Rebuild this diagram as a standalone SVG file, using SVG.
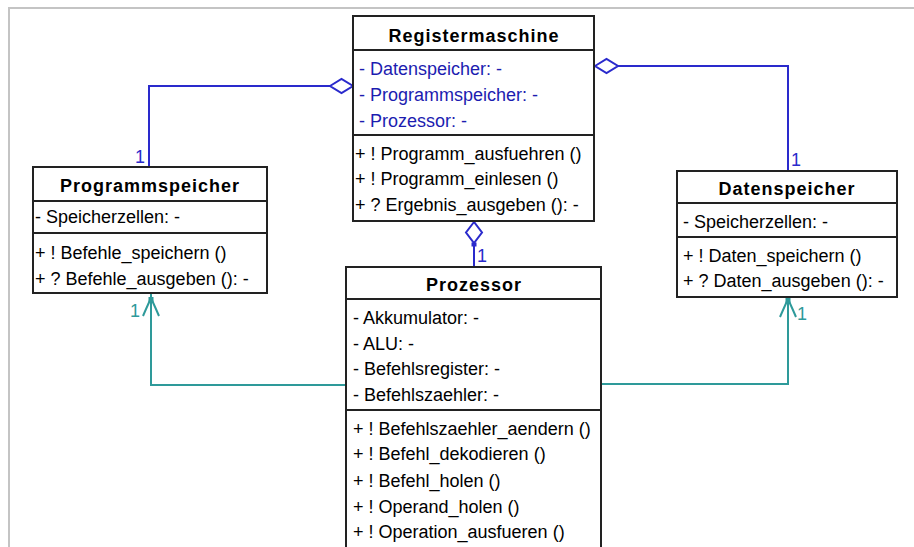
<svg xmlns="http://www.w3.org/2000/svg" width="914" height="547" viewBox="0 0 914 547">
  <style>
    .box { fill: #ffffff; stroke: #222222; stroke-width: 2; }
    .div { stroke: #222222; stroke-width: 2; }
    .title { font-family: "Liberation Sans", Arial, sans-serif; font-size: 18px; font-weight: bold; letter-spacing: 1px; fill: #000000; text-anchor: middle; }
    .txt { font-family: "Liberation Sans", Arial, sans-serif; font-size: 18px; fill: #000000; }
    .attr-blue { fill: #1c1cb0; }
    .agg { fill: none; stroke: #2a2acc; stroke-width: 2; }
    .nav { fill: none; stroke: #2e9a9a; stroke-width: 2; }
    .mult-agg { font-family: "Liberation Sans", Arial, sans-serif; font-size: 18px; fill: #2a2acc; }
    .mult-nav { font-family: "Liberation Sans", Arial, sans-serif; font-size: 18px; fill: #2e9a9a; }
  </style>

  <rect x="0" y="0" width="914" height="547" fill="#ffffff"/>
  <!-- window frame -->
  <path d="M9,547 V8 H914" fill="none" stroke="#c4c4c4" stroke-width="2"/>

  <!-- connectors -->
  <g id="connectors">
    <!-- aggregation Registermaschine -> Programmspeicher -->
    <path class="agg" d="M149,167 V86 H330"/>
    <polygon class="agg" points="330,86 341.5,79 353,86 341.5,93" fill="#ffffff"/>
    <text class="mult-agg" x="135" y="163">1</text>

    <!-- aggregation Registermaschine -> Datenspeicher -->
    <polygon class="agg" points="595,66 606.5,59 618,66 606.5,73"/>
    <path class="agg" d="M618,66 H788 V171"/>
    <text class="mult-agg" x="791" y="166">1</text>

    <!-- aggregation Registermaschine -> Prozessor -->
    <polygon class="agg" points="474,222 466,232.5 474,243 482,232.5"/>
    <path class="agg" d="M474,243 V267"/>
    <rect x="471.5" y="242.5" width="5" height="4" fill="#2a2acc"/>
    <text class="mult-agg" x="477" y="262">1</text>

    <!-- association Prozessor -> Programmspeicher -->
    <path class="nav" d="M346,385 H151 V294"/>
    <path class="nav" d="M143,316 Q146,309 151,298 Q156,309 159,316"/>
    <rect x="148.5" y="297" width="5" height="5" fill="#2e9a9a"/>
    <text class="mult-nav" x="130" y="317">1</text>

    <!-- association Prozessor -> Datenspeicher -->
    <path class="nav" d="M601,384 H788 V298"/>
    <path class="nav" d="M780,317 Q783,310 788,299 Q793,310 796,317"/>
    <rect x="785.5" y="298" width="5" height="5" fill="#2e9a9a"/>
    <text class="mult-nav" x="797" y="320">1</text>
  </g>

  <!-- Registermaschine -->
  <g id="registermaschine">
    <rect class="box" x="353" y="16" width="241" height="205"/>
    <line class="div" x1="353" y1="50" x2="594" y2="50"/>
    <line class="div" x1="353" y1="135" x2="594" y2="135"/>
    <text class="title" x="474" y="42">Registermaschine</text>
    <text class="txt attr-blue" x="359" y="75">- Datenspeicher: -</text>
    <text class="txt attr-blue" x="359" y="101">- Programmspeicher: -</text>
    <text class="txt attr-blue" x="359" y="127">- Prozessor: -</text>
    <text class="txt" x="355" y="160">+ ! Programm_ausfuehren ()</text>
    <text class="txt" x="355" y="185">+ ! Programm_einlesen ()</text>
    <text class="txt" x="355" y="211">+ ? Ergebnis_ausgeben (): -</text>
  </g>

  <!-- Programmspeicher -->
  <g id="programmspeicher">
    <rect class="box" x="33" y="167" width="234" height="126"/>
    <line class="div" x1="33" y1="201" x2="267" y2="201"/>
    <line class="div" x1="33" y1="233" x2="267" y2="233"/>
    <text class="title" x="150" y="192">Programmspeicher</text>
    <text class="txt" x="35" y="223">- Speicherzellen: -</text>
    <text class="txt" x="35" y="259">+ ! Befehle_speichern ()</text>
    <text class="txt" x="35" y="285">+ ? Befehle_ausgeben (): -</text>
  </g>

  <!-- Datenspeicher -->
  <g id="datenspeicher">
    <rect class="box" x="677" y="171" width="220" height="126"/>
    <line class="div" x1="677" y1="203" x2="897" y2="203"/>
    <line class="div" x1="677" y1="237" x2="897" y2="237"/>
    <text class="title" x="787" y="195">Datenspeicher</text>
    <text class="txt" x="683" y="228">- Speicherzellen: -</text>
    <text class="txt" x="683" y="262">+ ! Daten_speichern ()</text>
    <text class="txt" x="683" y="287">+ ? Daten_ausgeben (): -</text>
  </g>

  <!-- Prozessor -->
  <g id="prozessor">
    <rect class="box" x="346" y="267" width="255" height="300"/>
    <line class="div" x1="346" y1="299" x2="601" y2="299"/>
    <line class="div" x1="346" y1="410" x2="601" y2="410"/>
    <text class="title" x="474" y="291">Prozessor</text>
    <text class="txt" x="353" y="324">- Akkumulator: -</text>
    <text class="txt" x="353" y="350">- ALU: -</text>
    <text class="txt" x="353" y="375">- Befehlsregister: -</text>
    <text class="txt" x="353" y="401">- Befehlszaehler: -</text>
    <text class="txt" x="353" y="435">+ ! Befehlszaehler_aendern ()</text>
    <text class="txt" x="353" y="460">+ ! Befehl_dekodieren ()</text>
    <text class="txt" x="353" y="487">+ ! Befehl_holen ()</text>
    <text class="txt" x="353" y="513">+ ! Operand_holen ()</text>
    <text class="txt" x="353" y="538">+ ! Operation_ausfueren ()</text>
  </g>
</svg>
